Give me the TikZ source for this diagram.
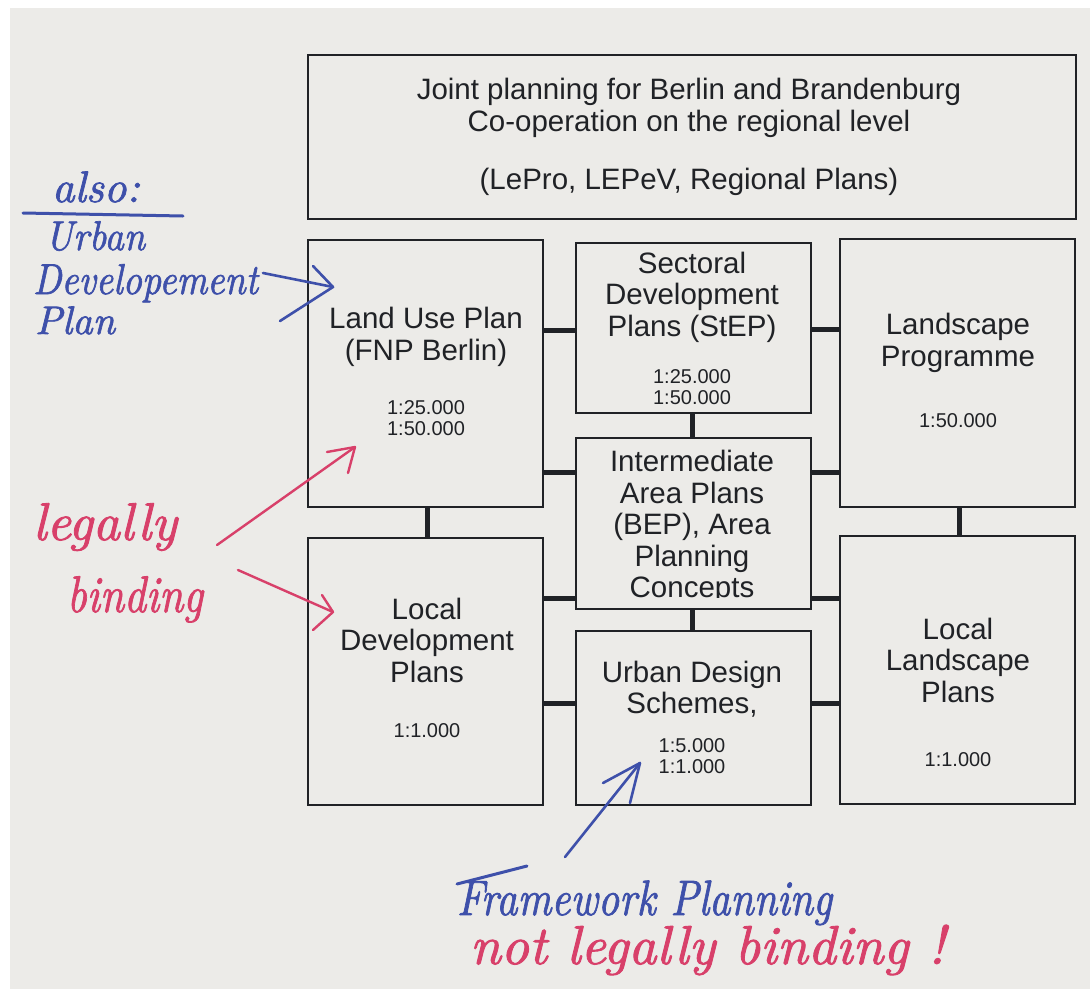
\documentclass[tikz,border=0pt]{standalone}
\usepackage{fontspec}
\usepackage{graphicx}
\newfontfamily\boxfont{Liberation Sans}
\newfontfamily\handfont[FakeBold=1.6]{lmroman10-italic.otf}
\definecolor{paper}{RGB}{236,235,232}
\definecolor{ink}{RGB}{32,34,38}
\definecolor{penblue}{RGB}{62,80,170}
\definecolor{penred}{RGB}{216,64,106}
\tikzset{
  plan/.style={draw=ink, line width=2.4pt, rectangle, inner sep=0pt, outer sep=0pt, minimum width=235pt},
  link/.style={draw=ink, line width=5pt},
  lbl/.style={text=ink, font=\boxfont\fontsize{29.5}{31.5}\selectfont, align=center, inner sep=0pt},
  scl/.style={text=ink, font=\boxfont\fontsize{20}{21}\selectfont, align=center, inner sep=0pt},
  hand/.style={inner sep=0pt, outer sep=0pt, font=\handfont, anchor=base west},
  bluepen/.style={draw=penblue, line width=2.6pt, line cap=round, line join=round},
  redpen/.style={draw=penred, line width=2.4pt, line cap=round, line join=round},
}
\begin{document}
\begin{tikzpicture}[x=1pt,y=-1pt]
\useasboundingbox (0,0) rectangle (1090,989);
\fill[white] (0,0) rectangle (1090,989);
\fill[paper] (10,8) rectangle (1090,989);

% boxes
\node[plan, minimum width=768pt, minimum height=164pt] (top) at (692,137) {};
\node[plan, minimum height=267pt] (land) at (425.5,373.5) {};
\node[plan, minimum height=267pt] (localdev) at (425.5,671.5) {};
\node[plan, minimum height=170pt] (sect) at (693.5,328) {};
\node[plan, minimum height=171pt] (inter) at (693.5,523.5) {};
\node[plan, minimum height=174pt] (urban) at (693.5,718) {};
\node[plan, minimum height=268pt] (landsc) at (957.5,373) {};
\node[plan, minimum height=268pt] (locland) at (957.5,670) {};

% connectors
\draw[link] (land.east |- 0,330) -- (sect.west |- 0,330);
\draw[link] (land.east |- 0,472) -- (inter.west |- 0,472);
\draw[link] (localdev.east |- 0,598) -- (inter.west |- 0,598);
\draw[link] (localdev.east |- 0,703) -- (urban.west |- 0,703);
\draw[link] (sect.east |- 0,329) -- (landsc.west |- 0,329);
\draw[link] (inter.east |- 0,472) -- (landsc.west |- 0,472);
\draw[link] (inter.east |- 0,598) -- (locland.west |- 0,598);
\draw[link] (urban.east |- 0,703) -- (locland.west |- 0,703);
\draw[link] (land.south -| 427,0) -- (localdev.north -| 427,0);
\draw[link] (sect.south -| 692,0) -- (inter.north -| 692,0);
\draw[link] (inter.south -| 692,0) -- (urban.north -| 692,0);
\draw[link] (landsc.south -| 959,0) -- (locland.north -| 959,0);

% box texts
\node[lbl] (topA) at (689,108) {Joint planning for Berlin and Brandenburg\\Co-operation on the regional level};
\node[lbl] (topB) at (689,182) {(LePro, LEPeV, Regional Plans)};
\node[lbl] (landT) at (426,337) {Land Use Plan\\(FNP Berlin)};
\node[scl] (landS) at (426,418) {1:25.000\\1:50.000};
\node[lbl] (sectT) at (692,297) {Sectoral\\Development\\Plans (StEP)};
\node[scl] (sectS) at (692,387) {1:25.000\\1:50.000};
\node[lbl] (landscT) at (958,343) {Landscape\\Programme};
\node[scl] (landscS) at (958,421) {1:50.000};
\begin{scope}
  \clip ([yshift=12pt]inter.south west) rectangle (inter.north east);
  \node[lbl] (interT) at (692,527) {Intermediate\\Area Plans\\(BEP), Area\\Planning\\Concepts};
\end{scope}
\node[lbl] (localdevT) at (427,640) {Local\\Development\\Plans};
\node[scl] (localdevS) at (427,731) {1:1.000};
\node[lbl] (urbanT) at (692,689) {Urban Design\\Schemes,};
\node[scl] (urbanS) at (692,756.5) {1:5.000\\1:1.000};
\node[lbl] (loclandT) at (958,660) {Local\\Landscape\\Plans};
\node[scl] (loclandS) at (958,760) {1:1.000};

% handwritten notes (blue)
\node[hand, text=penblue] (also) at (52,202) {\resizebox{88pt}{!}{also:}};
\coordinate (ulA) at (23,213);
\coordinate (ulB) at (183,216);
\draw[bluepen, line width=3pt] (ulA) -- (ulB);
\node[hand, text=penblue] (urb) at (45,250) {\scalebox{1}[1.1]{\resizebox{100pt}{!}{Urban}}};
\node[hand, text=penblue] (devel) at (33,294) {\scalebox{1}[1.15]{\resizebox{225pt}{!}{Developement}}};
\node[hand, text=penblue] (plan) at (35,334) {\resizebox{80pt}{!}{Plan}};
\coordinate (bA) at (263,273);
\coordinate (bTip) at (333,287);
\coordinate (bH1) at (313,266);
\coordinate (bH2) at (280,321);
\draw[bluepen] (bA) -- (bTip);
\draw[bluepen] (bH1) -- (bTip) -- (bH2);

% legally binding (red)
\node[hand, text=penred] (legally) at (33,540) {\resizebox{144pt}{!}{legally}};
\node[hand, text=penred] (binding) at (67,612) {\scalebox{1}[1.2]{\resizebox{136pt}{!}{binding}}};
\coordinate (r1A) at (217,545);
\coordinate (r1Tip) at (355,447);
\coordinate (r1H1) at (327,452);
\coordinate (r1H2) at (348,473);
\draw[redpen] (r1A) -- (r1Tip);
\draw[redpen] (r1H1) -- (r1Tip) -- (r1H2);
\coordinate (r2A) at (238,570);
\coordinate (r2Tip) at (333,612);
\coordinate (r2H1) at (322,595);
\coordinate (r2H2) at (313,630);
\draw[redpen] (r2A) -- (r2Tip);
\draw[redpen] (r2H1) -- (r2Tip) -- (r2H2);

% framework planning
\coordinate (fA) at (565,857);
\coordinate (fTip) at (640,763);
\coordinate (fH1) at (603,783);
\coordinate (fH2) at (630,803);
\draw[bluepen] (fA) -- (fTip);
\draw[bluepen] (fH1) -- (fTip) -- (fH2);
\node[hand, text=penblue] (frame) at (457,915) {\scalebox{1}[1.2]{\resizebox{375pt}{!}{Framework Planning}}};
\coordinate (fbA) at (457,884);
\coordinate (fbB) at (527,866);
\draw[bluepen, line width=3pt] (fbA) -- (fbB);
\node[hand, text=penred] (notlb) at (470,964) {\resizebox{475pt}{!}{not legally binding !}};
\end{tikzpicture}
\end{document}
